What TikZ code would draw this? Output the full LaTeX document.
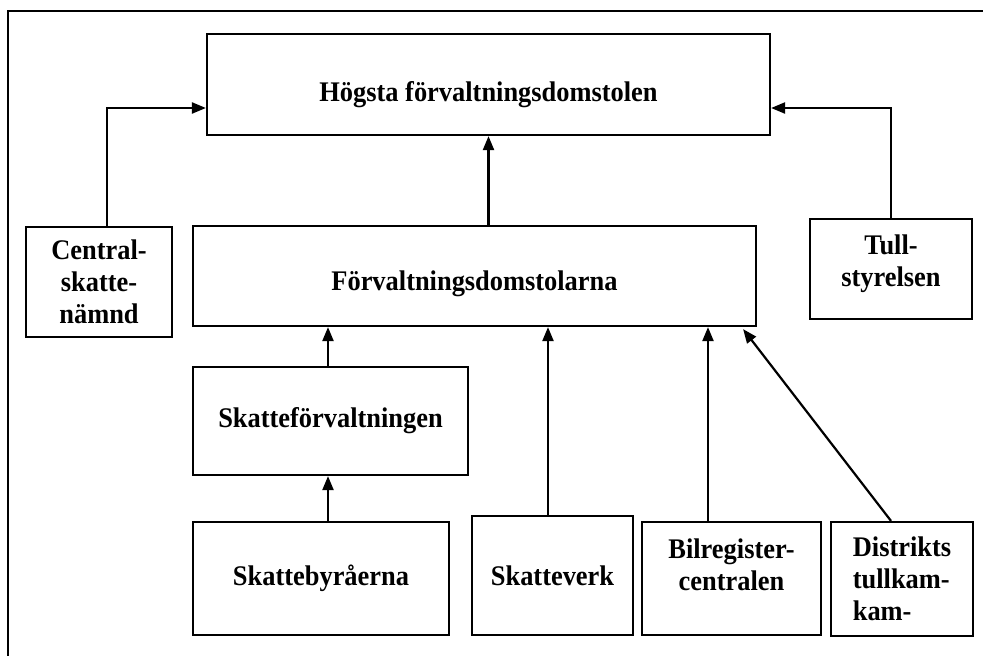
\documentclass[tikz,border=0pt]{standalone}
\usepackage{fontspec}
\setmainfont[FakeStretch=0.93]{Liberation Serif}
\usetikzlibrary{arrows.meta,calc,positioning}

\begin{document}
\begin{tikzpicture}[x=1pt, y=-1pt, >={Triangle[length=14pt,width=11pt]},
		box/.style={draw, line width=2.2pt, align=center, inner sep=3pt,
			font=\fontsize{28.4}{31.8}\selectfont\bfseries},
		link/.style={->, line width=2.2pt}]
		
		\useasboundingbox (0,0) rectangle (983,656);
		
		% --- outer frame (only its top and left edge lie on the page) ---
		\draw[line width=2.2pt] (8,656) -- (8,11) -- (983,11);
		
		% --- top level ---
		\node[box, minimum width=563pt, minimum height=101pt, text height=33pt, text depth=0pt]
			(hfd) at (488.5,84.5) {Högsta förvaltningsdomstolen};
		
		% --- second level ---
		\node[box, minimum width=563pt, minimum height=100pt, text height=29pt, text depth=0pt]
			(fdl) at (474.5,276) {Förvaltningsdomstolarna};
		\node[box, minimum width=146pt, minimum height=110pt]
			(csn) at (99,282) {Central-\\skatte-\\nämnd};
		\node[box, minimum width=162pt, minimum height=100pt, text height=35pt, text depth=0pt]
			(tull) at (891,269) {Tull-\\styrelsen};
		
		% --- third level ---
		\node[box, minimum width=275pt, minimum height=108pt]
			(skf) at (330.5,421) {Skatteförvaltningen};
		
		% --- bottom row ---
		\node[box, minimum width=256pt, minimum height=113pt]
			(sbr) at (321,578.5) {Skattebyråerna};
		\node[box, minimum width=161pt, minimum height=119pt]
			(skv) at (552.5,575.5) {Skatteverk};
		\node[box, minimum width=179pt, minimum height=113pt, text height=23pt, text depth=0pt]
			(bil) at (731.5,578.5) {Bilregister-\\centralen};
		\node[box, align=left, minimum width=142pt, minimum height=114pt]
			(dis) at (902,579) {Distrikts\\tullkam-\\kam-};
		
		% --- appeals to the top court ---
		\draw[link] ([xshift=8pt]csn.north) |- ([yshift=-23.5pt]hfd.west);
		\draw[link] (tull.north) |- ([yshift=-23.5pt]hfd.east);
		\draw[link] (fdl.north -| hfd.south) -- (hfd.south);
		
		% --- appeals to the administrative courts ---
		\draw[link] ([xshift=-2.5pt]skf.north) -- ([xshift=-2.5pt]skf.north |- fdl.south);
		\draw[link] ([xshift=-2.5pt]sbr.north -| skf.south) -- ([xshift=-2.5pt]skf.south);
		\draw[link] ([xshift=-4.5pt]skv.north) -- ([xshift=-4.5pt]skv.north |- fdl.south);
		\draw[link] ([xshift=-23.5pt]bil.north) -- ([xshift=-23.5pt]bil.north |- fdl.south);
		\draw[link] ([xshift=-11pt]dis.north) -- ([xshift=-14pt,yshift=-2pt]fdl.south east);
		
	\end{tikzpicture}
\end{document}
